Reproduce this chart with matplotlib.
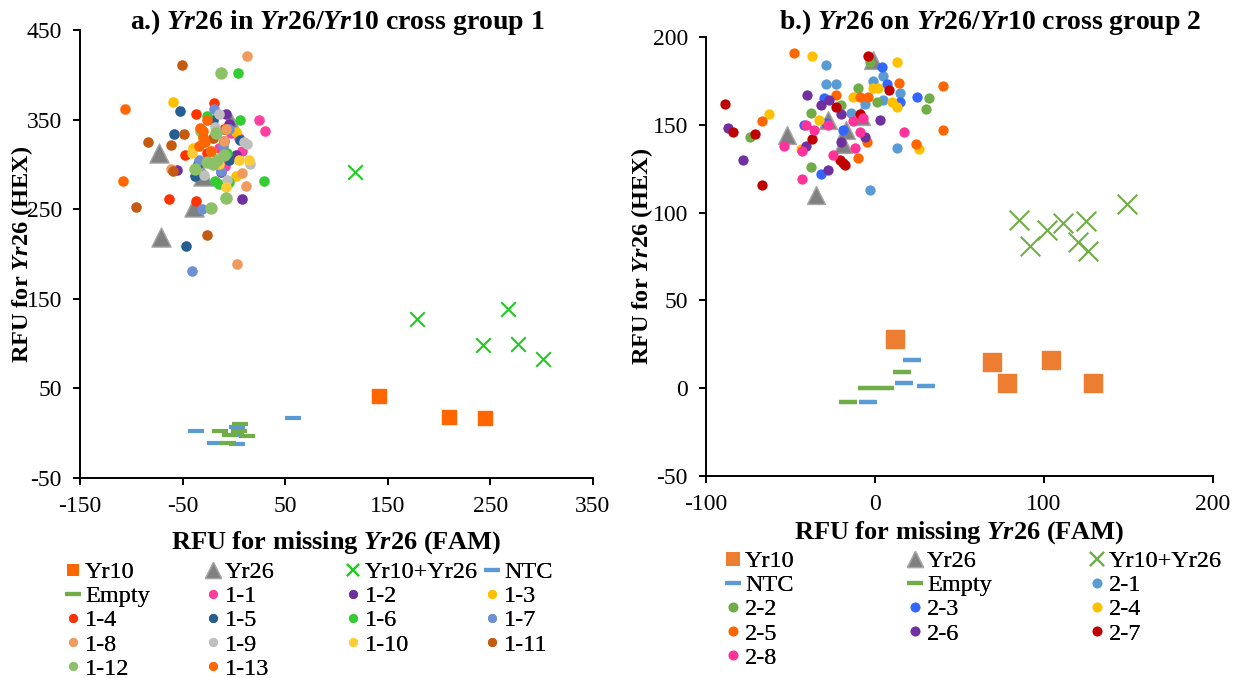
import matplotlib
matplotlib.use("Agg")
import matplotlib.pyplot as plt
from matplotlib.lines import Line2D

plt.rcParams['font.family'] = ['Liberation Serif', 'DejaVu Serif']
plt.rcParams['mathtext.fontset'] = 'custom'
plt.rcParams['mathtext.rm'] = 'Liberation Serif:bold'
plt.rcParams['mathtext.it'] = 'Liberation Serif:italic:bold'
plt.rcParams['mathtext.bf'] = 'Liberation Serif:bold'
plt.rcParams['axes.unicode_minus'] = False

# ---------------- Panel a data (cross group 1) ----------------
A_YR10 = [(141, 41), (210, 18), (245, 17)]
A_YR26 = [(-73, 313), (-71, 219), (-39, 253), (-30, 287), (-3, 346)]
A_YR10_YR26 = [(118, 291), (178, 127), (267, 139), (243, 98), (277, 99), (301, 83)]
A_NTC = [(-37, 3), (58, 17), (3, 7), (-18, -11), (3, -12), (2, -2)]
A_EMPTY = [(-14, 3), (6, 10), (-4, -2), (5, 2), (13, -3), (-6, -11)]

G1_1 = [(24, 349), (30, 337), (8, 315), (-3, 335), (-9, 298), (5, 330), (-15, 318)]
G1_2 = [(-8, 356), (-55, 294), (8, 261), (-10, 326), (-13, 292), (-5, 345), (2, 310)]
G1_3 = [(-59, 370), (2, 336), (2, 287), (-9, 339), (-7, 277), (-40, 318), (-20, 330)]
G1_4 = [(-37, 356), (-19, 369), (-48, 310), (-63, 261), (-37, 259), (-26, 313), (-10, 340), (-30, 325)]
G1_5 = [(-53, 360), (-58, 334), (6, 327), (-47, 209), (-5, 305), (-38, 287), (-20, 350), (-35, 300)]
G1_6 = [(4, 402), (6, 350), (-18, 282), (-15, 278), (29, 282), (-26, 354), (-7, 313), (-5, 280)]
G1_7 = [(-19, 362), (-13, 293), (-31, 250), (-41, 181), (-11, 320), (-34, 305), (-5, 340)]
G1_8 = [(13, 421), (-10, 326), (-61, 295), (8, 290), (12, 276), (3, 189), (-8, 340)]
G1_9 = [(13, 323), (16, 300), (-29, 288), (-7, 283), (-18, 342), (-22, 315), (-15, 356), (10, 325)]
G1_10 = [(-41, 313), (5, 305), (15, 305), (-8, 275), (-30, 330), (-15, 300)]
G1_11 = [(-51, 411), (-49, 334), (-84, 325), (-61, 322), (-59, 293), (-95, 253), (-26, 221), (-20, 330)]
G1_12 = [(-13, 402), (-8, 263), (-22, 251), (-17, 335), (-16, 305), (-26, 303), (-32, 337), (-38, 295), (-20, 300), (-10, 310)]
G1_13 = [(-106, 362), (-108, 282), (-33, 341), (-30, 331), (-34, 320), (-22, 315), (-26, 350), (-30, 337), (-28, 325)]

A_GROUP_NAMES = ['1-1', '1-2', '1-3', '1-4', '1-5', '1-6', '1-7', '1-8', '1-9', '1-10', '1-11', '1-12', '1-13']
A_GROUPS = [G1_1, G1_2, G1_3, G1_4, G1_5, G1_6, G1_7, G1_8, G1_9, G1_10, G1_11, G1_12, G1_13]
A_COLORS = ['#ff3fa0', '#7030a0', '#ffc000', '#ff3300', '#255e91', '#33cc33', '#6f8fd4',
            '#f19a5e', '#bfbfbf', '#ffcd33', '#c55a11', '#8cc168', '#ff6600']

# ---------------- Panel b data (cross group 2) ----------------
B_YR10 = [(12, 28), (69, 15), (78, 3), (104, 16), (129, 3)]
B_YR26 = [(-52, 144), (-35, 110), (-1, 187), (-19, 139), (-17, 147), (-28, 153), (-8, 155)]
B_YR10_YR26 = [(85, 96), (92, 81), (102, 90), (111, 94), (125, 95), (120, 83), (126, 78), (149, 105)]
B_NTC = [(22, 16), (17, 3), (30, 1), (-4, -8)]
B_EMPTY = [(-16, -8), (-5, 0), (6, 0), (16, 9)]

G2_1 = [(-29, 184), (5, 178), (-1, 175), (-29, 173), (-23, 173), (15, 168), (5, 164), (-6, 162), (-14, 157), (13, 137), (-3, 113)]
G2_2 = [(-3, 186), (-10, 171), (32, 165), (30, 159), (1, 163), (-20, 161), (-38, 157), (-74, 143), (-38, 126)]
G2_3 = [(4, 183), (7, 173), (25, 166), (-30, 165), (15, 163), (-42, 150), (-29, 151), (-19, 147), (-32, 122)]
G2_4 = [(-37, 189), (13, 186), (-1, 171), (2, 171), (-13, 166), (10, 163), (13, 160), (-63, 156), (-33, 153), (26, 136), (-44, 136)]
G2_5 = [(-48, 191), (14, 174), (40, 172), (-23, 167), (-9, 166), (-4, 166), (-67, 152), (40, 147), (-5, 140), (24, 139), (-10, 131)]
G2_6 = [(-40, 167), (-27, 164), (-32, 161), (-20, 156), (3, 153), (-87, 148), (-6, 143), (-20, 140), (-41, 138), (-78, 130), (-28, 124)]
G2_7 = [(-4, 189), (8, 170), (-89, 162), (-23, 160), (-9, 156), (-84, 146), (-71, 145), (-37, 142), (-21, 130), (-19, 128), (-18, 127), (-67, 116)]
G2_8 = [(-7, 154), (-13, 152), (-41, 150), (-28, 150), (-36, 147), (17, 146), (-9, 146), (-54, 138), (-43, 135), (-12, 137), (-25, 133), (-43, 119)]

B_GROUP_NAMES = ['2-1', '2-2', '2-3', '2-4', '2-5', '2-6', '2-7', '2-8']
B_GROUPS = [G2_1, G2_2, G2_3, G2_4, G2_5, G2_6, G2_7, G2_8]
B_COLORS = ['#5b9bd5', '#70ad47', '#3366ff', '#ffc000', '#ff6600', '#7030a0', '#c00000', '#ff3399']

A_XTICKS = [-150, -50, 50, 150, 250, 350]
A_YTICKS = [-50, 50, 150, 250, 350, 450]
B_XTICKS = [-100, 0, 100, 200]
B_YTICKS = [-50, 0, 50, 100, 150, 200]


def xs(pts):
    return [p[0] for p in pts]


def ys(pts):
    return [p[1] for p in pts]


W, H = 1234, 678
fig = plt.figure(figsize=(W / 100, H / 100), dpi=100)
axA = fig.add_axes([80 / W, 1 - 478 / H, 513 / W, 448 / H])
axB = fig.add_axes([706 / W, 1 - 476 / H, 507 / W, 439 / H])


def style_axis(ax, xt, yt):
    ax.set_xlim(xt[0], xt[-1])
    ax.set_ylim(yt[0], yt[-1])
    ax.set_xticks(xt)
    ax.set_yticks(yt)
    for s in ['top', 'right']:
        ax.spines[s].set_visible(False)
    for s in ['left', 'bottom']:
        ax.spines[s].set_linewidth(1.4)
    ax.tick_params(direction='out', length=5, width=1.4, labelsize=17, pad=8)


def proxy(marker, color, ms, mew=0, mec=None):
    return Line2D([], [], linestyle='none', marker=marker, markersize=ms, color=color,
                  markerfacecolor=color, markeredgecolor=mec if mec else color, markeredgewidth=mew)


# ---------- panel a ----------
axA.scatter(xs(A_YR10), ys(A_YR10), marker='s', s=105, c='#ff6600', zorder=3)
axA.scatter(xs(A_YR26), ys(A_YR26), marker='^', s=190, c='#808080', edgecolors='#a6a6a6', linewidths=1, zorder=3)
axA.scatter(xs(A_YR10_YR26), ys(A_YR10_YR26), marker='x', s=110, c='#1fcc1f', linewidths=1.5, zorder=3)
axA.scatter(xs(A_NTC), ys(A_NTC), marker='_', s=140, c='#5b9bd5', linewidths=3, zorder=3)
axA.scatter(xs(A_EMPTY), ys(A_EMPTY), marker='_', s=140, c='#70ad47', linewidths=3, zorder=3)
hA = [proxy('s', '#ff6600', 9), proxy('^', '#808080', 11, 1, '#a6a6a6'),
      proxy('x', '#1fcc1f', 9, 1.5), proxy('_', '#5b9bd5', 11, 3), proxy('_', '#70ad47', 11, 3)]
lA = ['Yr10', 'Yr26', 'Yr10+Yr26', 'NTC', 'Empty']
for name, pts, col in zip(A_GROUP_NAMES, A_GROUPS, A_COLORS):
    size = 80 if name in ('1-12',) else 58
    axA.scatter(xs(pts), ys(pts), marker='o', s=size, c=col, linewidths=0, zorder=4)
    hA.append(proxy('o', col, 6.5))
    lA.append(name)
style_axis(axA, A_XTICKS, A_YTICKS)

# ---------- panel b ----------
axB.scatter(xs(B_YR10), ys(B_YR10), marker='s', s=165, c='#ed7d31', zorder=3)
axB.scatter(xs(B_YR26), ys(B_YR26), marker='^', s=165, c='#808080', edgecolors='#a6a6a6', linewidths=1, zorder=3)
axB.scatter(xs(B_YR10_YR26), ys(B_YR10_YR26), marker='x', s=200, c='#70ad47', linewidths=1.5, zorder=3)
axB.scatter(xs(B_NTC), ys(B_NTC), marker='_', s=150, c='#5b9bd5', linewidths=3.2, zorder=3)
axB.scatter(xs(B_EMPTY), ys(B_EMPTY), marker='_', s=150, c='#70ad47', linewidths=3.2, zorder=3)
hB = [proxy('s', '#ed7d31', 10), proxy('^', '#808080', 11, 1, '#a6a6a6'),
      proxy('x', '#70ad47', 10, 1.5), proxy('_', '#5b9bd5', 11, 3), proxy('_', '#70ad47', 11, 3)]
lB = ['Yr10', 'Yr26', 'Yr10+Yr26', 'NTC', 'Empty']
for name, pts, col in zip(B_GROUP_NAMES, B_GROUPS, B_COLORS):
    axB.scatter(xs(pts), ys(pts), marker='o', s=55, c=col, linewidths=0, zorder=4)
    hB.append(proxy('o', col, 7))
    lB.append(name)
style_axis(axB, B_XTICKS, B_YTICKS)

# ---------- labels ----------
axA.set_xlabel(r'RFU for missing $\mathit{Yr26}$ (FAM)', fontsize=19, fontweight='bold')
axA.set_ylabel(r'RFU for $\mathit{Yr26}$ (HEX)', fontsize=17.5, fontweight='bold')
axB.set_xlabel(r'RFU for missing $\mathit{Yr26}$ (FAM)', fontsize=19, fontweight='bold')
axB.set_ylabel(r'RFU for $\mathit{Yr26}$ (HEX)', fontsize=17.5, fontweight='bold')
axA.xaxis.set_label_coords(0.5, -0.114)
axB.xaxis.set_label_coords(0.5, -0.098)
axA.yaxis.set_label_coords(-0.088, 0.5)
axB.yaxis.set_label_coords(-0.100, 0.5)

fig.text(337 / W, 1 - 22 / H, r'a.) $\mathit{Yr26}$ in $\mathit{Yr26/Yr10}$ cross group 1',
         ha='center', va='center', fontsize=20, fontweight='bold')
fig.text(990 / W, 1 - 22 / H, r'b.) $\mathit{Yr26}$ on $\mathit{Yr26/Yr10}$ cross group 2',
         ha='center', va='center', fontsize=20, fontweight='bold')


# ---------- legends (row-major, fixed column positions) ----------
def column_legends(handles, labels, ncol, col_x, top_y):
    for j in range(ncol):
        hs = handles[j::ncol]
        ls = labels[j::ncol]
        leg = fig.legend(handles=hs, labels=ls,
                         loc='upper left', bbox_to_anchor=(col_x[j] / W, 1 - top_y / H),
                         frameon=False, fontsize=17.5, handlelength=0.75, handletextpad=0.12,
                         labelspacing=0.09, borderpad=0, borderaxespad=0, numpoints=1)
        fig.add_artist(leg)


column_legends(hA, lA, 4, [64, 204, 344, 483], 561)
column_legends(hB, lB, 3, [724, 906, 1088], 550)

fig.savefig('out.png', dpi=100)
